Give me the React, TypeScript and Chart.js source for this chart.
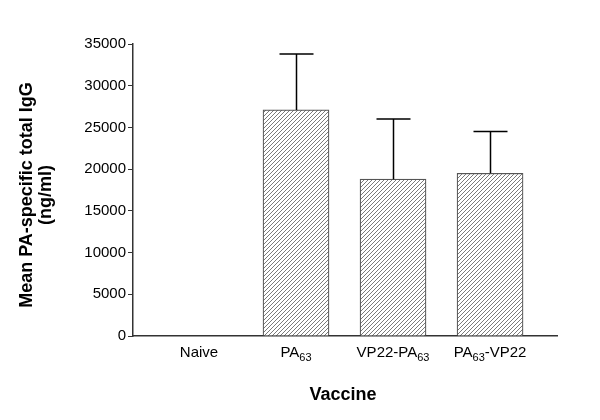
import React, { useEffect, useRef } from "react";
import { Chart, registerables } from "chart.js";

Chart.register(...registerables);

const categories = ["Naive", "PA_{63}", "VP22-PA_{63}", "PA_{63}-VP22"];
const meanIgG = [0, 27100, 18800, 19500];
const errorIgG = [0, 6700, 7200, 5000];
const yTicks = [0, 5000, 10000, 15000, 20000, 25000, 30000, 35000];
const yTitleLines = ["Mean PA-specific total IgG", "(ng/ml)"];
const xTitle = "Vaccine";

const FONT = "'Liberation Sans', Arial, sans-serif";

function parseLabel(s: string) {
  const parts: { t: string; sub: boolean }[] = [];
  const re = /_\{([^}]*)\}/g;
  let last = 0;
  let m: RegExpExecArray | null;
  while ((m = re.exec(s))) {
    if (m.index > last) parts.push({ t: s.slice(last, m.index), sub: false });
    parts.push({ t: m[1], sub: true });
    last = m.index + m[0].length;
  }
  if (last < s.length) parts.push({ t: s.slice(last), sub: false });
  return parts;
}

function makeHatch(): CanvasPattern | string {
  const c = document.createElement("canvas");
  c.width = 4;
  c.height = 4;
  const g = c.getContext("2d");
  if (!g) return "#ccc";
  g.fillStyle = "#ffffff";
  g.fillRect(0, 0, 4, 4);
  g.strokeStyle = "#7a7a7a";
  g.lineWidth = 1;
  g.beginPath();
  g.moveTo(-1, 5);
  g.lineTo(5, -1);
  g.moveTo(-1, 1);
  g.lineTo(1, -1);
  g.moveTo(3, 5);
  g.lineTo(5, 3);
  g.stroke();
  const p = g.createPattern(c, "repeat");
  return p || "#ccc";
}

const overlayPlugin = {
  id: "overlay",
  afterDatasetsDraw(chart: any) {
    const ctx = chart.ctx as CanvasRenderingContext2D;
    const x = chart.scales.x;
    const y = chart.scales.y;
    ctx.save();
    // error bars
    ctx.strokeStyle = "#000";
    ctx.lineWidth = 1.5;
    meanIgG.forEach((m, i) => {
      const e = errorIgG[i];
      if (!e) return;
      const px = Math.round(x.getPixelForValue(i)) + 0.5;
      const y0 = y.getPixelForValue(m);
      const y1 = y.getPixelForValue(m + e);
      ctx.beginPath();
      ctx.moveTo(px, y0);
      ctx.lineTo(px, y1);
      ctx.moveTo(px - 17, y1);
      ctx.lineTo(px + 17, y1);
      ctx.stroke();
    });
    // x labels with subscripts
    ctx.fillStyle = "#000";
    ctx.textBaseline = "alphabetic";
    ctx.textAlign = "left";
    const mainFont = `15px ${FONT}`;
    const subFont = `11px ${FONT}`;
    categories.forEach((lab, i) => {
      const parts = parseLabel(lab);
      let w = 0;
      parts.forEach((p) => {
        ctx.font = p.sub ? subFont : mainFont;
        w += ctx.measureText(p.t).width;
      });
      let cx = x.getPixelForValue(i) - w / 2;
      const base = 357;
      parts.forEach((p) => {
        ctx.font = p.sub ? subFont : mainFont;
        ctx.fillText(p.t, cx, p.sub ? base + 4 : base);
        cx += ctx.measureText(p.t).width;
      });
    });
    // x title
    ctx.font = `bold 18px ${FONT}`;
    ctx.textAlign = "center";
    ctx.textBaseline = "middle";
    ctx.fillText(xTitle, (chart.chartArea.left + chart.chartArea.right) / 2 - 2, 395);
    // y title
    const cy = (chart.chartArea.top + chart.chartArea.bottom) / 2 + 5;
    ctx.translate(0, cy);
    ctx.rotate(-Math.PI / 2);
    ctx.fillText(yTitleLines[0], 0, 27);
    ctx.fillText(yTitleLines[1], 0, 46);
    ctx.restore();
  },
};

export default function App() {
  const ref = useRef<HTMLCanvasElement>(null);
  useEffect(() => {
    document.body.style.margin = "0";
    const canvas = ref.current;
    if (!canvas) return;
    const hatch = makeHatch();
    const chart = new Chart(canvas, {
      type: "bar",
      data: {
        datasets: [
          {
            data: meanIgG.map((v, i) => ({ x: i, y: v })),
            backgroundColor: hatch as any,
            borderColor: "#555",
            borderWidth: 1.2,
            borderSkipped: "bottom",
            barThickness: 66,
          },
        ],
      },
      options: {
        animation: false,
        responsive: false,
        devicePixelRatio: 1,
        layout: { padding: { top: 44, right: 43, left: 0, bottom: 0 } },
        plugins: {
          legend: { display: false },
          tooltip: { enabled: false },
          title: { display: false },
        },
        scales: {
          x: {
            type: "linear",
            offset: false,
            min: -0.68,
            max: 3.69,
            ticks: { display: false },
            grid: { drawOnChartArea: false, drawTicks: false, color: "rgba(0,0,0,0)" },
            border: { display: true, color: "#333", width: 1.5 },
            afterFit: (s: any) => {
              s.height = 84;
            },
          },
          y: {
            min: 0,
            max: 35000,
            afterBuildTicks: (s: any) => {
              s.ticks = yTicks.map((v) => ({ value: v }));
            },
            ticks: {
              font: { family: FONT, size: 15 },
              color: "#000",
              padding: 2,
              callback: (v: any) => String(v),
            },
            grid: { drawOnChartArea: false, tickLength: 5, color: "#333", lineWidth: 1 },
            border: { display: true, color: "#333", width: 1.5 },
            afterFit: (s: any) => {
              s.width = 133;
            },
          },
        },
      },
      plugins: [overlayPlugin],
    });
    return () => chart.destroy();
  }, []);
  return (
    <div style={{ width: 600, height: 420 }}>
      <canvas ref={ref} width={600} height={420} />
    </div>
  );
}
